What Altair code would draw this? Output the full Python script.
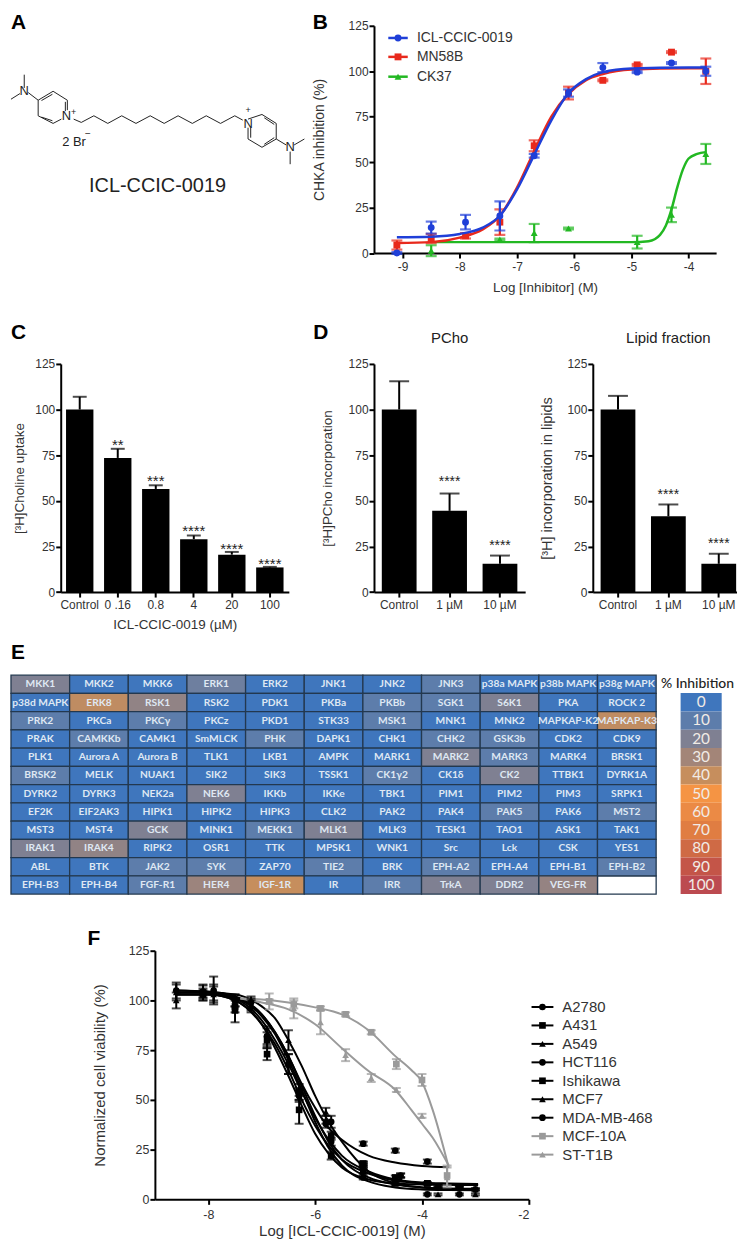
import altair as alt
import pandas as pd

FONT = "Liberation Sans"
BLUE, RED, GREEN = "#1f3fd8", "#e8291c", "#22b822"
GRAY = "#9a9a9a"

# ---------- Panel A: structure (drawing units) ----------
A_X1 = [48, 8, 60, 90, 135, 178, 135, 90, 100, 172, 100, 90,
        197, 220, 258, 300, 342, 385, 428, 470, 512, 555, 597, 640, 683,
        723, 765, 808, 808, 765, 731, 772, 772, 808, 862, 850, 723]
A_Y1 = [218, 292, 272, 295, 268, 295, 365, 342, 296, 300, 346, 295,
        352, 362, 342, 365, 342, 365, 342, 365, 342, 365, 342, 365, 342,
        352, 338, 365, 412, 437, 378, 348, 428, 412, 430, 450, 378]
A_X2 = [48, 35, 90, 135, 178, 178, 160, 135, 133, 172, 133, 90,
        220, 258, 300, 342, 385, 428, 470, 512, 555, 597, 640, 683, 707,
        765, 808, 808, 765, 723, 731, 802, 802, 838, 893, 850, 723]
A_Y2 = [258, 275, 295, 268, 295, 325, 352, 365, 277, 328, 357, 342,
        362, 342, 365, 342, 365, 342, 365, 342, 365, 342, 365, 342, 355,
        338, 365, 412, 437, 412, 408, 368, 408, 430, 412, 488, 412]
A_TXT = ["N", "N", "N", "N", "+", "+", "2 Br", "−", "ICL-CCIC-0019"]
A_TX = [48, 175, 723, 850, 197, 723, 198, 240, 450]
A_TY = [268, 342, 368, 437, 330, 326, 420, 397, 555]
A_TS = [13, 13, 13, 13, 9, 9, 13, 10, 20]

# ---------- Panel B ----------
B_X = [-9.1, -8.5, -7.9, -7.3, -6.7, -6.1, -5.5, -4.9, -4.3, -3.7]
ICL_Y = [0, 14, 17, 20.4, 53.5, 88, 102, 99.5, 104.5, 100]
ICL_E = [0.5, 3.3, 4, 8, 1, 2, 2.5, 0.5, 0.5, 2.5]
MN_Y = [4.4, 8, 9.5, 17, 59, 88, 95, 103.5, 110.5, 100]
MN_E = [2.5, 2.5, 1.5, 7, 3, 3.5, 0.5, 0.5, 0.5, 7]
CK_X = [-8.5, -7.3, -6.7, -6.1, -4.9, -4.3, -3.7]
CK_Y = [1.3, 7.5, 11, 13.5, 6, 21, 54.5]
CK_E = [3, 0.5, 5, 0.5, 3.5, 4, 5.5]
ICL_CX = [-9.1, -8.5, -8, -7.6, -7.3, -7, -6.7, -6.4, -6.1, -5.8, -5.5, -5, -4, -3.7]
ICL_CY = [8.7, 9, 10.5, 14, 20.5, 35, 54, 73, 88, 95.5, 99.5, 101.5, 102, 102]
MN_CY = [5.5, 6, 8.5, 13, 20.5, 36, 56, 75, 87.5, 95, 98.5, 101, 101.7, 101.7]
CK_CX = [-8.5, -5.0, -4.7, -4.5, -4.4, -4.3, -4.2, -4.1, -4.0, -3.85, -3.7]
CK_CY = [6, 6, 6.5, 10, 15, 24, 36, 46, 52, 54.5, 55.5]
B_NAMES = ["ICL-CCIC-0019", "MN58B", "CK37"]
B_LEG_Y = [118.3, 107.9, 97]

# ---------- Panel C, D ----------
C_CATS = ["Control", "0 .16", "0.8", "4", "20", "100"]
C_VALS = [100, 73.5, 56.5, 29, 20.5, 13.5]
C_ERR = [7, 5, 2, 2, 1.5, 0.3]
C_STARS = ["", "**", "***", "****", "****", "****"]
C_STAR_Y = [0, 82, 62.6, 35, 25, 17]
D_CATS = ["Control", "1 µM", "10 µM"]
D1_VALS = [100, 44.5, 15.5]
D1_ERR = [15.5, 9.5, 4.5]
D1_STAR_Y = [0, 62, 27]
D2_VALS = [100, 41.5, 15.5]
D2_ERR = [7.5, 6.5, 5.5]
D2_STAR_Y = [0, 55, 27.7]
D_STARS = ["", "****", "****"]

# ---------- Panel E ----------
E_NAMES = [
 ["MKK1","MKK2","MKK6","ERK1","ERK2","JNK1","JNK2","JNK3","p38a MAPK","p38b MAPK","p38g MAPK"],
 ["p38d MAPK","ERK8","RSK1","RSK2","PDK1","PKBa","PKBb","SGK1","S6K1","PKA","ROCK 2"],
 ["PRK2","PKCa","PKCγ","PKCz","PKD1","STK33","MSK1","MNK1","MNK2","MAPKAP-K2","MAPKAP-K3"],
 ["PRAK","CAMKKb","CAMK1","SmMLCK","PHK","DAPK1","CHK1","CHK2","GSK3b","CDK2","CDK9"],
 ["PLK1","Aurora A","Aurora B","TLK1","LKB1","AMPK","MARK1","MARK2","MARK3","MARK4","BRSK1"],
 ["BRSK2","MELK","NUAK1","SIK2","SIK3","TSSK1","CK1γ2","CK1δ","CK2","TTBK1","DYRK1A"],
 ["DYRK2","DYRK3","NEK2a","NEK6","IKKb","IKKe","TBK1","PIM1","PIM2","PIM3","SRPK1"],
 ["EF2K","EIF2AK3","HIPK1","HIPK2","HIPK3","CLK2","PAK2","PAK4","PAK5","PAK6","MST2"],
 ["MST3","MST4","GCK","MINK1","MEKK1","MLK1","MLK3","TESK1","TAO1","ASK1","TAK1"],
 ["IRAK1","IRAK4","RIPK2","OSR1","TTK","MPSK1","WNK1","Src","Lck","CSK","YES1"],
 ["ABL","BTK","JAK2","SYK","ZAP70","TIE2","BRK","EPH-A2","EPH-A4","EPH-B1","EPH-B2"],
 ["EPH-B3","EPH-B4","FGF-R1","HER4","IGF-1R","IR","IRR","TrkA","DDR2","VEG-FR",""],
]
E_PCT = [
 [20,0,0,15,0,0,0,10,0,0,0],
 [0,38,25,0,0,0,10,10,20,0,0],
 [10,0,10,0,0,0,10,0,0,0,38],
 [0,10,0,0,10,0,0,10,10,0,0],
 [0,0,0,0,0,0,0,20,10,0,0],
 [10,0,0,0,0,0,10,0,20,0,0],
 [0,0,0,20,0,0,0,0,0,0,0],
 [0,0,0,0,0,0,0,0,10,0,10],
 [0,0,20,0,10,20,0,0,0,0,0],
 [20,25,0,0,0,0,0,0,0,0,0],
 [0,0,10,10,0,10,0,10,0,0,10],
 [0,0,10,28,40,0,10,20,20,26,-1],
]
LEG_VALS = [0, 10, 20, 30, 40, 50, 60, 70, 80, 90, 100]
LEG_COLS = ["#3f76bd", "#5d7dab", "#7f8092", "#a38578", "#c68e5d", "#f59444",
            "#eb8a45", "#e07d42", "#cf6a45", "#c45548", "#bc4a50"]

# ---------- Panel F ----------
SET1 = [-8.6, -7.9, -7.2, -6.5, -5.8, -5.1, -4.4, -3.7, -3.0]
SET2 = [-8.1, -7.5, -6.9, -6.3, -5.7, -5.1, -4.5, -3.9, -3.3]
SET3 = [-6.86, -6.4, -5.9, -5.43, -4.95, -4.48, -4.0, -3.53]
F_NAMES = ["A2780", "A431", "A549", "HCT116", "Ishikawa", "MCF7", "MDA-MB-468", "MCF-10A", "ST-T1B"]
F_SHAPES = ["circle", "square", "triangle-up", "triangle-down", "diamond", "circle", "square", "triangle-up", "triangle-down"]
F_SIZES = [45, 45, 40, 40, 28, 90, 100, 90, 90]
F_COLORS = ["black"] * 7 + [GRAY] * 2
F_XS = [SET2, SET2, SET1, SET1, SET2, SET1, SET2[:-1], SET3, SET3]
F_Y_A2780 = [104.5, 100, 82, 52, 29, 11, 9, 2.5, 2.5]
F_Y_A431 = [104, 97, 80, 54, 32, 18, 11, 8, 6]
F_Y_A549 = [100, 104, 97, 68, 40, 17, 10, 6, 5]
F_Y_HCT = [105, 105, 99, 68, 38, 17, 12, 6, 5]
F_Y_ISH = [103, 95, 73, 45, 22, 14, 8, 8, 6]
F_Y_MCF7 = [104, 103, 98, 80, 44, 18, 12, 2.5, 2.5]
F_Y_MDA = [103, 100, 82, 53, 39, 28, 24.5, 19]
F_Y_10A = [99.5, 98, 96, 93, 84, 68, 60, 12]
F_Y_ST = [99.5, 96, 89, 72.5, 61, 55, 42, 11]
F_YS = [F_Y_A2780, F_Y_A431, F_Y_A549, F_Y_HCT, F_Y_ISH, F_Y_MCF7, F_Y_MDA, F_Y_10A, F_Y_ST]
F_E_A2780 = [3, 3, 4, 3, 2, 1, 1, 0.5, 0.5]
F_E_A431 = [4, 3, 4, 4, 2, 1, 1, 0.5, 0.5]
F_E_A549 = [4, 4, 3, 5, 2, 1, 1, 0.5, 0.5]
F_E_HCT = [4, 7, 3, 5, 2, 1, 1, 0.5, 0.5]
F_E_ISH = [3, 6, 3, 7, 2, 1, 1, 0.5, 0.5]
F_E_MCF7 = [4, 4, 3, 5, 2, 1, 1, 0.5, 0.5]
F_E_MDA = [2, 3, 5, 3, 3, 1, 1, 1]
F_E_10A = [1, 2, 1, 1, 1, 2.5, 3, 5]
F_E_ST = [4, 5, 6, 3, 2, 1, 1, 5]
F_ES = [F_E_A2780, F_E_A431, F_E_A549, F_E_HCT, F_E_ISH, F_E_MCF7, F_E_MDA, F_E_10A, F_E_ST]
F_CX = [-8.6, -8, -7.5, -7, -6.75, -6.5, -6.25, -6, -5.75, -5.5, -5, -4.5, -4, -3.5, -2.95]
F_C_A2780 = [105, 104.5, 102, 92, 83, 70, 55, 39, 26, 17, 9, 6, 5, 4.7, 4.6]
F_C_A431 = [103, 103, 100, 88, 78, 65, 50, 37, 27, 20, 13, 9.5, 8, 7.5, 7.3]
F_C_A549 = [105, 104, 101, 90, 80, 68, 54, 41, 30, 22, 14, 10, 8.5, 8, 7.7]
F_C_HCT = [104, 104, 102, 93, 84, 72, 57, 42, 29, 20, 11, 7.5, 6, 5.5, 5.3]
F_C_ISH = [103, 103, 100, 88, 76, 62, 47, 33, 23, 16, 10, 8, 7.5, 7.3, 7.2]
F_C_MCF7 = [104, 104, 103, 97, 91, 80, 67, 52, 39, 29, 14, 8, 6, 5, 4.7]
F_C_MDA = [103, 103, 101, 93, 84, 72, 58, 46, 36, 30, 22, 18.5, 16.8, 16.2, None]
F_CYS = [F_C_A2780, F_C_A431, F_C_A549, F_C_HCT, F_C_ISH, F_C_MCF7, F_C_MDA]
F10_CX = [-7.4, -7, -6.5, -6, -5.5, -5, -4.5, -4.2, -4, -3.8, -3.5]
F10_CY = [101, 100.5, 99, 96.5, 93, 85, 72, 65, 59, 45, 16]
FST_CY = [101, 99, 95.5, 88, 76, 64.5, 55, 45, 38, 31, 17]

Y_TICKS = [0, 25, 50, 75, 100, 125]


def yax(title, pad, size=12, tsize=13.5):
    return alt.Axis(title=title, values=Y_TICKS, titlePadding=pad, labelFontSize=size, labelPadding=1, titleFontSize=tsize)


def letter(txt, px, py):
    d = pd.DataFrame({"t": [txt]})
    return alt.Chart(d).mark_text(font=FONT, fontWeight="bold", fontSize=21, color="black", align="left",
                                  baseline="alphabetic").encode(text="t:N", x=alt.value(px), y=alt.value(py))


def gap(w, h):
    return alt.Chart(pd.DataFrame({"a": [0]})).mark_point(opacity=0).encode(
        x=alt.value(0), y=alt.value(0)).properties(width=w, height=h)


# ---------- A ----------
dfA = pd.DataFrame({"x": A_X1, "y": A_Y1, "x2": A_X2, "y2": A_Y2})
dfAt = pd.DataFrame({"x": A_TX, "y": A_TY, "t": A_TXT, "s": A_TS})
ax = alt.X("x:Q", axis=None, scale=alt.Scale(domain=[8, 1102], nice=False, zero=False))
ay = alt.Y("y:Q", axis=None, scale=alt.Scale(domain=[70.5, 756], nice=False, zero=False, range=[0, 228.5]))
panelA = alt.layer(
    alt.Chart(dfA).mark_rule(color="#222", strokeWidth=1).encode(x=ax, y=ay, x2="x2:Q", y2="y2:Q"),
    alt.Chart(dfAt).mark_text(font=FONT, color="#222", baseline="middle").encode(
        x=ax, y=ay, text="t:N", size=alt.Size("s:Q", legend=None, scale=None)),
    letter("A", 0, 3.5),
).properties(width=364.7, height=228.5)


# ---------- B ----------
def b_frames(name, xs, ys, es, cx, cy):
    pts = pd.DataFrame({"x": xs, "y": ys, "s": name})
    pts["lo"] = [a - b for a, b in zip(ys, es)]
    pts["hi"] = [a + b for a, b in zip(ys, es)]
    cur = pd.DataFrame({"x": cx, "y": cy, "s": name})
    return pts, cur


b_data = [b_frames("CK37", CK_X, CK_Y, CK_E, CK_CX, CK_CY),
          b_frames("MN58B", B_X, MN_Y, MN_E, ICL_CX, MN_CY),
          b_frames("ICL-CCIC-0019", B_X, ICL_Y, ICL_E, ICL_CX, ICL_CY)]
bx = alt.X("x:Q", scale=alt.Scale(domain=[-9.5, -3.52], nice=False, zero=False),
           axis=alt.Axis(title="Log [Inhibitor] (M)", values=[-9, -8, -7, -6, -5, -4], labelExpr="'' + datum.value",
                         labelPadding=4, titlePadding=8, labelFontSize=12))
by = alt.Y("y:Q", scale=alt.Scale(domain=[0, 125], nice=False), axis=yax("CHKA inhibition (%)", 22, tsize=14))
bcol = alt.Color("s:N", legend=None, scale=alt.Scale(domain=B_NAMES, range=[BLUE, RED, GREEN]))
bshape = alt.Shape("s:N", legend=None, scale=alt.Scale(domain=B_NAMES, range=["circle", "square", "triangle-up"]))
blayers = []
for pts, cur in b_data:
    blayers += [
        alt.Chart(cur).mark_line(interpolate="monotone", strokeWidth=2.5).encode(x=bx, y=by, color=bcol),
        alt.Chart(pts).mark_rule(strokeWidth=2.2).encode(x=bx, y=alt.Y("lo:Q"), y2="hi:Q", color=bcol),
        alt.Chart(pts).mark_tick(size=11, thickness=2.2, orient="horizontal").encode(x=bx, y=alt.Y("lo:Q"), color=bcol),
        alt.Chart(pts).mark_tick(size=11, thickness=2.2, orient="horizontal").encode(x=bx, y=alt.Y("hi:Q"), color=bcol),
        alt.Chart(pts).mark_point(filled=True, size=48, opacity=1).encode(x=bx, y=by, color=bcol, shape=bshape),
    ]
dfBL = pd.DataFrame({"s": B_NAMES, "y": B_LEG_Y, "x": [-9.25] * 3, "x2": [-8.91] * 3, "xm": [-9.08] * 3, "xt": [-8.75] * 3})
blayers += [
    alt.Chart(dfBL).mark_rule(strokeWidth=2.5).encode(x=bx, x2="x2:Q", y=by, color=bcol),
    alt.Chart(dfBL).mark_point(filled=True, size=48, opacity=1).encode(x=alt.X("xm:Q"), y=by, color=bcol, shape=bshape),
    alt.Chart(dfBL).mark_text(font=FONT, fontSize=14, align="left", baseline="middle", color="#333").encode(
        x=alt.X("xt:Q"), y=by, text="s:N"),
    letter("B", -61.7, 3.5),
]
panelB = alt.layer(*blayers).properties(width=344, height=228.5)


# ---------- bars ----------
def bars(cats, vals, errs, stars, star_y, ytitle, pad, width, pi, po, cap, star_size, xtitle=None, title=None, extra=None, tsize=13.5):
    d = pd.DataFrame({"c": cats, "v": vals, "hi": [a + b for a, b in zip(vals, errs)], "st": stars, "sy": star_y})
    x = alt.X("c:N", sort=cats, scale=alt.Scale(paddingInner=pi, paddingOuter=po),
              axis=alt.Axis(title=xtitle, labelAngle=0, labelPadding=3, labelFontSize=12, titlePadding=7))
    y = alt.Y("v:Q", scale=alt.Scale(domain=[0, 125], nice=False), axis=yax(ytitle, pad, tsize=tsize))
    layers = [
        alt.Chart(d).mark_rule(color="black", strokeWidth=2).encode(x=x, y=y, y2="hi:Q"),
        alt.Chart(d).mark_tick(color="black", size=cap, thickness=2, orient="horizontal").encode(x=x, y=alt.Y("hi:Q")),
        alt.Chart(d).mark_bar(color="black").encode(x=x, y=y),
        alt.Chart(d[d.st != ""]).mark_text(font=FONT, fontSize=star_size, color="#222", baseline="middle", dy=3).encode(
            x=x, y=alt.Y("sy:Q"), text="st:N"),
    ]
    if extra:
        layers += extra
    ch = alt.layer(*layers).properties(width=width, height=229.4)
    if title:
        ch = ch.properties(title=alt.TitleParams(title, font=FONT, fontSize=15, fontWeight="normal", color="#222",
                                                 anchor="middle", offset=12))
    return ch


spacer1 = alt.layer(letter("C", 0, -25)).properties(width=50, height=229.4)
panelC = bars(C_CATS, C_VALS, C_ERR, C_STARS, C_STAR_Y, "[³H]Choline uptake", 8.5, 229.4, 0.28, 0.14, 14, 15,
              xtitle="ICL-CCIC-0019 (µM)", extra=[letter("D", 254, -25)])
panelD1 = bars(D_CATS, D1_VALS, D1_ERR, D_STARS, D1_STAR_Y, "[³H]PCho incorporation", 14, 152, 0.31, 0.155, 20, 14,
               title="PCho")
panelD2 = bars(D_CATS, D2_VALS, D2_ERR, D_STARS, D2_STAR_Y, "[³H] incorporation in lipids", 12, 152, 0.31, 0.155, 20, 14,
               title="Lipid fraction", tsize=14.5)

# ---------- E ----------
rows = []
for r, (names, pcts) in enumerate(zip(E_NAMES, E_PCT)):
    for c, (n, p) in enumerate(zip(names, pcts)):
        rows.append({"r": r, "c": c, "n": n, "p": p})
dfE = pd.DataFrame(rows)
ex = alt.X("c:O", axis=None, scale=alt.Scale(paddingInner=0, paddingOuter=0))
ey = alt.Y("r:O", axis=None, scale=alt.Scale(paddingInner=0, paddingOuter=0))
ecol = alt.Color("p:Q", legend=None, scale=alt.Scale(domain=LEG_VALS, range=LEG_COLS, interpolate="rgb"))
panelE = alt.layer(
    alt.Chart(dfE[dfE.p < 0]).mark_rect(color="white", stroke="#23384f", strokeWidth=1.3).encode(x=ex, y=ey),
    alt.Chart(dfE[dfE.p >= 0]).mark_rect(stroke="#23384f", strokeWidth=1.3).encode(x=ex, y=ey, color=ecol),
    alt.Chart(dfE[dfE.p >= 0]).mark_text(font="Lato", fontWeight="bold", fontSize=10.3, color="#dfe8f3", baseline="middle").encode(
        x=ex, y=ey, text="n:N"),
    letter("E", 0, -16),
).properties(width=648.7, height=220)

dfL = pd.DataFrame({"v": LEG_VALS})
lx = alt.value(20.6)
ly = alt.Y("v:O", axis=None, scale=alt.Scale(paddingInner=0, paddingOuter=0, range=[18, 220]))
legendE = alt.layer(
    alt.Chart(dfL).mark_rect().encode(y=ly, x=alt.value(0), x2=alt.value(41.3),
                                      color=alt.Color("v:Q", legend=None, scale=alt.Scale(domain=LEG_VALS, range=LEG_COLS, interpolate="rgb"))),
    alt.Chart(dfL).mark_text(font="Lato", fontSize=15.5, color="#f1ebe6", baseline="middle").encode(y=ly, x=lx, text="v:Q"),
    alt.Chart(pd.DataFrame({"t": ["% Inhibition"]})).mark_text(font="Lato", fontSize=14, fontWeight=500, color="#222",
                                                               baseline="middle").encode(x=alt.value(17), y=alt.value(9), text="t:N"),
).properties(width=41.3, height=220)

# ---------- F ----------
pts_rows, cur_rows = [], []
for n, xs, ys, es in zip(F_NAMES, F_XS, F_YS, F_ES):
    for a, b, e in zip(xs, ys, es):
        pts_rows.append({"x": a, "y": b, "lo": b - e, "hi": b + e, "s": n})
for n, cy in zip(F_NAMES[:7], F_CYS):
    for a, b in zip(F_CX, cy):
        if b is not None:
            cur_rows.append({"x": a if n != "MDA-MB-468" or a < -3.4 else -3.33, "y": b, "s": n})
for n, cy in zip(F_NAMES[7:], [F10_CY, FST_CY]):
    for a, b in zip(F10_CX, cy):
        cur_rows.append({"x": a, "y": b, "s": n})
dfFp, dfFc = pd.DataFrame(pts_rows), pd.DataFrame(cur_rows)
fx = alt.X("x:Q", scale=alt.Scale(domain=[-9, -2], nice=False, zero=False),
           axis=alt.Axis(title="Log [ICL-CCIC-0019] (M)", values=[-8, -6, -4, -2], labelExpr="'' + datum.value",
                         labelPadding=4, titlePadding=3, labelFontSize=12.5, titleFontSize=15))
fy = alt.Y("y:Q", scale=alt.Scale(domain=[0, 125], nice=False), axis=yax("Normalized cell viability (%)", 21, 12.5, 15))
fcol = alt.Color("s:N", legend=None, scale=alt.Scale(domain=F_NAMES, range=F_COLORS))
fshape = alt.Shape("s:N", legend=None, scale=alt.Scale(domain=F_NAMES, range=F_SHAPES))
fsize = alt.Size("s:N", legend=None, scale=alt.Scale(domain=F_NAMES, range=F_SIZES))
panelF = alt.layer(
    alt.Chart(dfFc).mark_line(interpolate="monotone", strokeWidth=2).encode(x=fx, y=fy, color=fcol),
    alt.Chart(dfFp).mark_rule(strokeWidth=2).encode(x=fx, y=alt.Y("lo:Q"), y2="hi:Q", color=fcol),
    alt.Chart(dfFp).mark_tick(size=9, thickness=2, orient="horizontal").encode(x=fx, y=alt.Y("lo:Q"), color=fcol),
    alt.Chart(dfFp).mark_tick(size=9, thickness=2, orient="horizontal").encode(x=fx, y=alt.Y("hi:Q"), color=fcol),
    alt.Chart(dfFp).mark_point(filled=True, opacity=1).encode(x=fx, y=fy, color=fcol, shape=fshape, size=fsize),
).properties(width=376, height=250)
spacer2 = alt.layer(letter("F", 77, -5.7)).properties(width=141.3, height=250)

dfFL = pd.DataFrame({"s": F_NAMES})
fly = alt.Y("s:N", axis=None, sort=F_NAMES, scale=alt.Scale(type="point", domain=F_NAMES, range=[47.3, 214.3]))
legendF = alt.layer(
    alt.Chart(dfFL).mark_rule(strokeWidth=2).encode(y=fly, x=alt.value(0), x2=alt.value(22), color=fcol),
    alt.Chart(dfFL).mark_point(filled=True, opacity=1).encode(y=fly, x=alt.value(11), color=fcol, shape=fshape, size=fsize),
    alt.Chart(dfFL).mark_text(font=FONT, fontSize=15, align="left", baseline="middle", color="#333").encode(
        y=fly, x=alt.value(31), text="s:N"),
).properties(width=130, height=250)

row1 = alt.hconcat(panelA, panelB, spacing=0, bounds="flush")
row2 = alt.hconcat(spacer1, panelC, gap(84.6, 1), panelD1, gap(67.4, 1), panelD2, spacing=0, bounds="flush")
row3 = alt.hconcat(panelE, legendE, spacing=24.3, bounds="flush")
row4 = alt.hconcat(spacer2, panelF, legendF, spacing=2.7, bounds="flush")

chart = alt.vconcat(row1, gap(1, 339.8), row2, gap(1, 312.7), row3, gap(1, 276.7), row4, spacing=0, bounds="flush").properties(
    padding={"left": 0, "top": 0.5, "right": -7, "bottom": -1}, background="white"
).configure_view(stroke=None).configure_axis(
    grid=False, domainColor="black", domainWidth=2, tickColor="black", tickWidth=2, tickSize=5,
    labelColor="#333", titleColor="#333", labelFont=FONT, titleFont=FONT, titleFontSize=13.5, titleFontWeight="normal",
)
chart.save("out.html", embed_options={"renderer": "svg", "actions": False})
